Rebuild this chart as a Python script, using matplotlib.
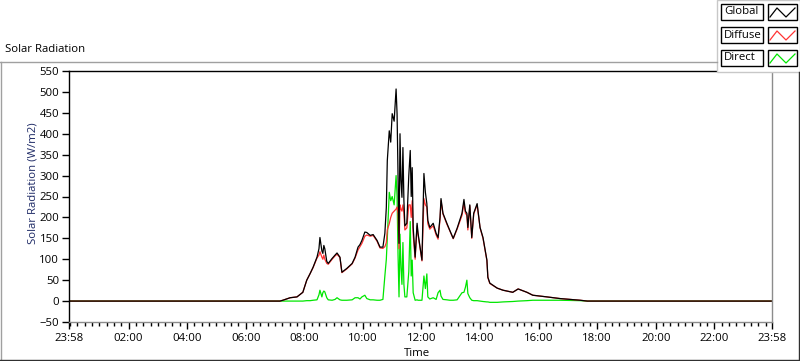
import numpy as np
import pandas as pd
import matplotlib
matplotlib.use("Agg")
import matplotlib.pyplot as plt
from matplotlib.lines import Line2D
from matplotlib.patches import Rectangle
from matplotlib.ticker import FixedLocator, MultipleLocator

# Readings taken off the chart (clock time, W/m2)
times = ["00:00", "07:10", "07:16", "07:31", "07:45", "07:57", "08:05", "08:12", "08:18", "08:26",
         "08:30", "08:32", "08:36", "08:38", "08:40", "08:42", "08:46", "08:49", "08:57", "09:03",
         "09:07", "09:13", "09:17", "09:27", "09:38", "09:44", "09:50", "09:54", "09:58", "10:04",
         "10:08", "10:15", "10:21", "10:29", "10:35", "10:41", "10:45", "10:48", "10:50", "10:54",
         "10:57", "11:00", "11:04", "11:08", "11:10", "11:12", "11:14", "11:16", "11:18", "11:20",
         "11:22", "11:24", "11:26", "11:30", "11:34", "11:37", "11:39", "11:41", "11:43", "11:47",
         "11:51", "11:53", "12:01", "12:05", "12:08", "12:11", "12:13", "12:17", "12:24", "12:30",
         "12:34", "12:38", "12:40", "12:44", "12:52", "12:58", "13:05", "13:13", "13:23", "13:27",
         "13:30", "13:33", "13:35", "13:39", "13:43", "13:47", "13:54", "14:00", "14:06", "14:14",
         "14:16", "14:20", "14:35", "14:47", "15:07", "15:18", "15:36", "15:48", "16:17", "16:44",
         "17:25", "17:40", "23:58"]

global_rad = [0, 0, 2, 8, 10, 21, 50, 66, 81, 105,
              125, 152, 120, 114, 133, 125, 95, 90, 102, 110,
              115, 105, 69, 78, 90, 105, 129, 135, 145, 165,
              164, 157, 159, 145, 129, 129, 162, 224, 336, 407,
              380, 448, 430, 507, 448, 300, 138, 400, 288, 248,
              367, 240, 180, 186, 300, 360, 250, 319, 176, 105,
              186, 162, 98, 305, 260, 233, 193, 176, 186, 162,
              152, 200, 245, 210, 186, 169, 150, 174, 210, 243,
              215, 210, 176, 230, 152, 210, 233, 176, 152, 98,
              57, 43, 31, 26, 21, 29, 21, 14, 10, 6,
              2, 0, 0]

diffuse_rad = [0, 0, 2, 8, 10, 21, 50, 66, 80, 103,
               110, 118, 105, 100, 110, 100, 90, 88, 100, 108,
               112, 104, 68, 77, 89, 103, 122, 130, 138, 155,
               158, 155, 157, 143, 127, 126, 130, 140, 170, 185,
               200, 210, 215, 220, 225, 210, 125, 230, 220, 215,
               230, 210, 170, 175, 230, 230, 200, 240, 160, 100,
               180, 158, 96, 245, 230, 225, 185, 172, 180, 158,
               148, 195, 240, 208, 184, 168, 149, 172, 205, 235,
               210, 205, 170, 228, 150, 208, 230, 175, 150, 97,
               56, 42, 31, 26, 21, 29, 21, 14, 10, 6,
               2, 0, 0]

direct_rad = [0, 0, 0, 0, 0, 0, 1, 1, 2, 3,
              15, 26, 10, 20, 24, 22, 8, 3, 2, 4,
              8, 3, 2, 2, 3, 8, 8, 5, 10, 14,
              6, 3, 3, 2, 2, 4, 60, 100, 150, 260,
              240, 250, 230, 300, 250, 110, 10, 160, 80, 40,
              140, 40, 10, 10, 70, 190, 60, 98, 20, 2,
              3, 2, 2, 60, 30, 65, 10, 5, 8, 4,
              20, 26, 12, 4, 3, 2, 2, 3, 20, 21,
              33, 50, 18, 8, 2, 1, 1, 0, -1, -2,
              -2, -3, -3, -2, -1, 0, 1, 2, 2, 2,
              1, 0, 0]

y_ticks = list(range(-50, 551, 50))
x_tick_labels = ["23:58", "02:00", "04:00", "06:00", "08:00", "10:00", "12:00",
                 "14:00", "16:00", "18:00", "20:00", "22:00", "23:58"]

W, H = 800, 361
plt.rcParams["font.family"] = ["Open Sans", "DejaVu Sans"]
plt.rcParams["font.size"] = 8.2


def fx(x):
    return x / W


def fy(y):
    return 1 - y / H


# hours from midnight, the first point sits at 23:58 of the previous day
hours = pd.to_timedelta([t + ":00" for t in times]).total_seconds() / 3600.0
hours = np.array(hours)
hours[0] = -2 / 60
x_start, x_end = -2 / 60, 24 - 2 / 60

fig = plt.figure(figsize=(W / 100, H / 100), dpi=100)
fig.patch.set_facecolor("white")

ax = fig.add_axes([fx(69), fy(322), fx(772 - 69), (322 - 71) / H])
ax.plot(hours, direct_rad, color="#00e600", lw=0.9)
ax.plot(hours, diffuse_rad, color="#ff3333", lw=0.9)
ax.plot(hours, global_rad, color="black", lw=0.9)

ax.set_xlim(x_start, x_end)
ax.set_ylim(-50, 550)
ax.set_yticks(y_ticks)
ax.xaxis.set_major_locator(FixedLocator([x_start] + list(range(2, 23, 2)) + [x_end]))
ax.set_xticklabels(x_tick_labels)
ax.xaxis.set_minor_locator(MultipleLocator(0.25))
ax.tick_params(axis="y", length=5, width=1, pad=2, direction="out")
ax.tick_params(axis="x", which="major", length=5, width=1, pad=3, direction="out")
ax.tick_params(axis="x", which="minor", length=3, width=1, direction="out")

ax.spines["left"].set_color("black")
ax.spines["top"].set_color("black")
ax.spines["right"].set_color("#8c8c8c")
ax.spines["bottom"].set_color("#8c8c8c")
for s in ax.spines.values():
    s.set_linewidth(1)

# axis captions
fig.text(fx(5), fy(50), "Solar Radiation", ha="left", va="center")
fig.text(fx(33), fy(183), "Solar Radiation (W/m2)", rotation=90, ha="center", va="center",
         color="#1e2a66")
fig.text(fx(404), fy(353), "Time", ha="left", va="center")

# outer panel frame
fig.add_artist(Line2D([fx(0.5), fx(0.5)], [fy(62), fy(360)], color="#a0a0a0", lw=1))
fig.add_artist(Line2D([fx(0), fx(717)], [fy(62), fy(62)], color="#a0a0a0", lw=1))
fig.add_artist(Line2D([fx(0), fx(800)], [fy(360), fy(360)], color="#303030", lw=1))
fig.add_artist(Line2D([fx(799), fx(799)], [fy(72), fy(360)], color="#303030", lw=1))

# legend box
fig.add_artist(Rectangle((fx(717), fy(72)), fx(83), 72 / H, transform=fig.transFigure,
                         facecolor="white", edgecolor="#c8c8c8", lw=1))
names = ["Global", "Diffuse", "Direct"]
colors = ["black", "#ff3333", "#00e600"]
for i, (name, c) in enumerate(zip(names, colors)):
    top = 4 + 23 * i
    fig.add_artist(Rectangle((fx(721), fy(top + 16)), fx(42), 16 / H, transform=fig.transFigure,
                             facecolor="white", edgecolor="black", lw=1))
    fig.add_artist(Rectangle((fx(768), fy(top + 16)), fx(29), 16 / H, transform=fig.transFigure,
                             facecolor="white", edgecolor="black", lw=1))
    fig.text(fx(724), fy(top + 8), name, ha="left", va="center")
    fig.add_artist(Line2D([fx(770), fx(777), fx(786), fx(795)],
                          [fy(top + 13), fy(top + 4), fy(top + 13), fy(top + 4)],
                          color=c, lw=0.9))

fig.savefig("out.png", dpi=100)
